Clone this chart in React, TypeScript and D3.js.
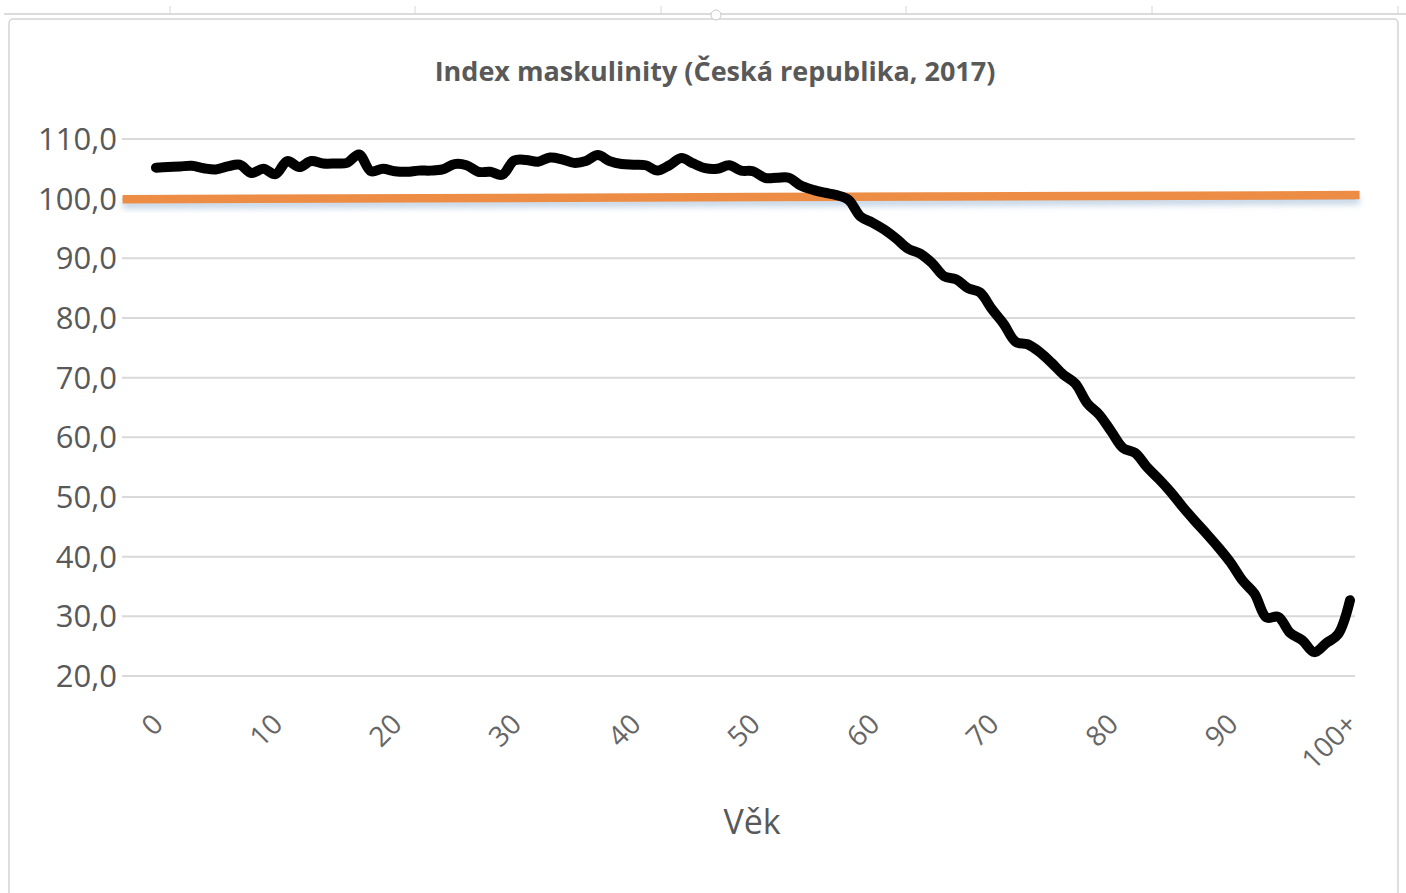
import * as d3 from "d3";
import { useEffect, useRef } from "react";

// age 0..100+ (index maskulinity, males per 100 females)
const ages = d3.range(0, 101);
const ageLabels = ["0", "10", "20", "30", "40", "50", "60", "70", "80", "90", "100+"];
const index = [
  105.2, 105.3, 105.4, 105.5, 105.1, 104.9, 105.4, 105.7, 104.3, 105.0,
  104.1, 106.3, 105.3, 106.3, 105.9, 105.9, 106.0, 107.4, 104.6, 105.0,
  104.6, 104.5, 104.7, 104.7, 104.9, 105.8, 105.6, 104.5, 104.5, 104.0,
  106.4, 106.5, 106.2, 106.9, 106.6, 106.0, 106.3, 107.3, 106.3, 105.8,
  105.7, 105.6, 104.7, 105.6, 106.8, 105.9, 105.1, 105.0, 105.6, 104.7,
  104.6, 103.5, 103.5, 103.5, 102.2, 101.5, 101.0, 100.6, 99.8, 97.0,
  96.0, 94.8, 93.3, 91.6, 90.8, 89.2, 87.0, 86.5, 85.0, 84.3,
  81.5, 79.0, 76.0, 75.6, 74.3, 72.5, 70.5, 69.0, 65.7, 63.8,
  61.0, 58.2, 57.4, 55.0, 53.0, 50.8, 48.3, 46.0, 43.8, 41.5,
  39.0, 36.0, 33.8, 29.8, 29.9, 27.2, 26.0, 24.0, 25.5, 27.0,
  32.7,
];
const yTicks = [20, 30, 40, 50, 60, 70, 80, 90, 100, 110];
// hand drawn orange parity line (age, value) at its two ends
const parityAges = [-2.8, 100.8];
const parityValues = [99.9, 100.6];

const title = "Index maskulinity (Česká republika, 2017)";
const xTitle = "Věk";

const W = 1406;
const H = 893;
const grey = "#595959";
const font = "'Open Sans', 'Noto Sans', sans-serif";

const App = () => {
  const ref = useRef<SVGSVGElement>(null);

  useEffect(() => {
    const svg = d3.select(ref.current).attr("width", W).attr("height", H).html("");

    svg.append("rect").attr("width", W).attr("height", H).attr("fill", "#fff");

    // chart frame + selection ruler at top
    svg
      .append("rect")
      .attr("x", 9)
      .attr("y", 19)
      .attr("width", 1389)
      .attr("height", 900)
      .attr("rx", 4)
      .attr("fill", "none")
      .attr("stroke", "#d4d4d4")
      .attr("stroke-width", 1.5);
    svg
      .append("line")
      .attr("x1", 4)
      .attr("x2", W)
      .attr("y1", 14)
      .attr("y2", 14)
      .attr("stroke", "#cfcfcf")
      .attr("stroke-width", 1.5);
    [170, 415, 661, 906, 1152, 1398].forEach((tx) =>
      svg
        .append("line")
        .attr("x1", tx)
        .attr("x2", tx)
        .attr("y1", 6)
        .attr("y2", 14)
        .attr("stroke", "#d6d6d6")
    );
    svg
      .append("circle")
      .attr("cx", 716)
      .attr("cy", 15)
      .attr("r", 5)
      .attr("fill", "#fff")
      .attr("stroke", "#c8c8c8");

    const x = d3.scaleLinear().domain([0, 100]).range([156, 1350]);
    const y = d3.scaleLinear().domain([20, 110]).range([676, 139]);

    // gridlines
    svg
      .append("g")
      .selectAll("line")
      .data(yTicks)
      .join("line")
      .attr("x1", 122)
      .attr("x2", 1355)
      .attr("y1", (d) => y(d))
      .attr("y2", (d) => y(d))
      .attr("stroke", "#d9d9d9")
      .attr("stroke-width", 2);

    // y labels
    svg
      .append("g")
      .selectAll("text")
      .data(yTicks)
      .join("text")
      .attr("x", 117)
      .attr("y", (d) => y(d))
      .attr("dy", "0.36em")
      .attr("text-anchor", "end")
      .style("font-family", font)
      .style("font-size", "31px")
      .style("fill", grey)
      .text((d) => d3.format(".1f")(d).replace(".", ","));

    // x labels, rotated
    svg
      .append("g")
      .selectAll("text")
      .data(ageLabels)
      .join("text")
      .attr("transform", (_, i) => `translate(${x(i * 10) - 5},${712}) rotate(-45)`)
      .attr("text-anchor", "end")
      .attr("dy", "0.7em")
      .style("font-family", font)
      .style("font-size", "28px")
      .style("fill", "#666")
      .text((d) => d);

    // orange parity line with soft shadow
    const defs = svg.append("defs");
    defs
      .append("filter")
      .attr("id", "blur")
      .attr("x", "-5%")
      .attr("y", "-200%")
      .attr("width", "110%")
      .attr("height", "500%")
      .append("feGaussianBlur")
      .attr("stdDeviation", 3);

    const parity = parityAges.map((a, i) => [a, parityValues[i]] as [number, number]);
    const straight = d3
      .line<[number, number]>()
      .x((d) => x(d[0]))
      .y((d) => y(d[1]));
    svg
      .append("path")
      .attr("d", straight(parity))
      .attr("transform", "translate(0,5)")
      .attr("fill", "none")
      .attr("stroke", "#9fb9d6")
      .attr("stroke-opacity", 0.6)
      .attr("stroke-width", 9)
      .attr("filter", "url(#blur)");
    svg
      .append("path")
      .attr("d", straight(parity))
      .attr("fill", "none")
      .attr("stroke", "#ed8d45")
      .attr("stroke-width", 8.5);

    // index line
    const line = d3
      .line<number>()
      .x((_, i) => x(ages[i]))
      .y((d) => y(d))
      .curve(d3.curveCatmullRom.alpha(0.5));
    svg
      .append("path")
      .attr("d", line(index))
      .attr("fill", "none")
      .attr("stroke", "#000")
      .attr("stroke-width", 10)
      .attr("stroke-linejoin", "round")
      .attr("stroke-linecap", "round");

    // titles
    svg
      .append("text")
      .attr("x", 715)
      .attr("y", 81)
      .attr("text-anchor", "middle")
      .style("font-family", font)
      .style("font-size", "27px")
      .style("font-weight", "700")
      .style("fill", grey)
      .text(title);

    svg
      .append("text")
      .attr("x", 752)
      .attr("y", 834)
      .attr("text-anchor", "middle")
      .style("font-family", font)
      .style("font-size", "34px")
      .style("fill", grey)
      .text(xTitle);
  }, []);

  return (
    <div style={{ position: "absolute", left: 0, top: 0 }}>
      <svg ref={ref}></svg>
    </div>
  );
};

export default App;
